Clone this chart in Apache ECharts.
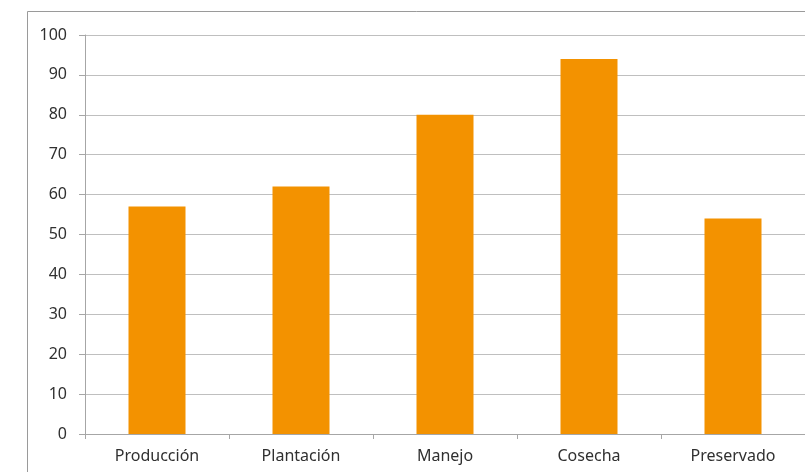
<!DOCTYPE html>
<html><head><meta charset="utf-8">
<script src="https://cdn.jsdelivr.net/npm/echarts@6/dist/echarts.min.js"></script>
<style>html,body{margin:0;padding:0;background:#fff}#c{width:805px;height:472px}</style>
</head><body><div id="c"></div>
<script>
const categories = ['Producción', 'Plantación', 'Manejo', 'Cosecha', 'Preservado'];
const values = [57, 62, 80, 94, 54];
const yTicks = [0, 10, 20, 30, 40, 50, 60, 70, 80, 90, 100];

const chart = echarts.init(document.getElementById('c'), null, {renderer: 'canvas'});
chart.setOption({
  animation: false,
  graphic: [{
    type: 'rect', left: 27, top: 11, z: -1,
    shape: {x: 0, y: 0, width: 800, height: 480},
    style: {fill: '#fff', stroke: '#9a9a9a', lineWidth: 1}
  }],
  grid: {left: 85, top: 35, width: 721, bottom: 38},
  xAxis: {
    type: 'category', data: categories,
    axisLine: {lineStyle: {color: '#a6a6a6'}},
    axisTick: {show: true, length: 5, lineStyle: {color: '#a6a6a6'}},
    axisLabel: {color: '#303030', fontFamily: 'Noto Sans, Open Sans, sans-serif', fontSize: 16, margin: 14}
  },
  yAxis: {
    type: 'value', min: yTicks[0], max: yTicks[yTicks.length - 1], interval: 10,
    axisLine: {show: true, lineStyle: {color: '#a6a6a6'}},
    axisTick: {show: true, length: 6, lineStyle: {color: '#a6a6a6'}},
    axisLabel: {color: '#303030', fontFamily: 'Noto Sans, Open Sans, sans-serif', fontSize: 16, margin: 18},
    splitLine: {lineStyle: {color: '#bfbfbf'}}
  },
  series: [{
    type: 'bar', data: values, barWidth: 57,
    itemStyle: {color: '#F39200'}
  }]
});
</script></body></html>
